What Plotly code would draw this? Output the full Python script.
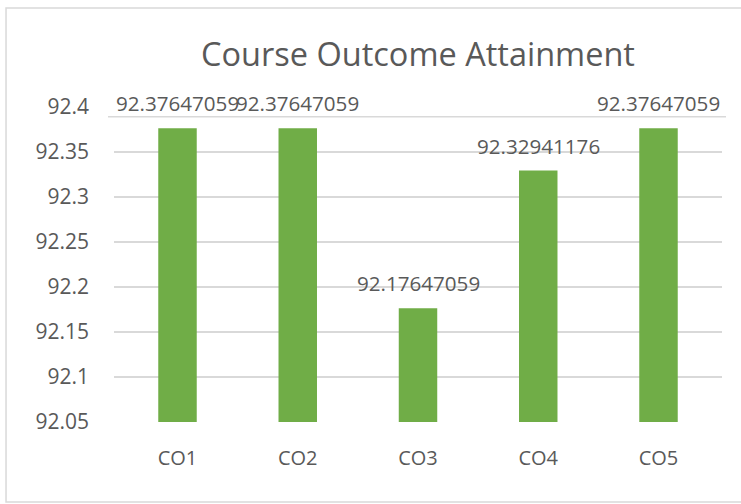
import plotly.graph_objects as go

categories = ["CO1", "CO2", "CO3", "CO4", "CO5"]
values = [92.37647059, 92.37647059, 92.17647059, 92.32941176, 92.37647059]
y_ticks = [92.05, 92.1, 92.15, 92.2, 92.25, 92.3, 92.35, 92.4]
y_tick_labels = ["92.05", "92.1", "92.15", "92.2", "92.25", "92.3", "92.35", "92.4"]
title_text = "Course Outcome Attainment"

TXT = "#595959"
GRID = "#D9D9D9"
FONT = "Open Sans"

fig = go.Figure()
fig.add_trace(go.Bar(
    x=categories, y=values, marker=dict(color="#70AD47", line=dict(width=0)),
    hoverinfo="x+y",
))

for c, v in zip(categories, values):
    fig.add_annotation(x=c, y=v, text="%.8f" % v, showarrow=False,
                       yanchor="middle", yshift=25,
                       font=dict(family=FONT, size=20.6, color=TXT))

# chart border and top rule
fig.add_shape(type="rect", xref="paper", yref="paper",
              x0=-0.1776, x1=1.08, y0=-0.254, y1=1.314,
              line=dict(color=GRID, width=1.5), fillcolor="rgba(0,0,0,0)", layer="below")
fig.add_shape(type="line", xref="paper", yref="paper",
              x0=-0.0099, x1=1.0066, y0=0.969, y1=0.969,
              line=dict(color=GRID, width=1.5), layer="below")

fig.update_layout(
    width=741, height=504,
    margin=dict(l=114, r=19, t=107, b=82),
    paper_bgcolor="white", plot_bgcolor="white",
    bargap=0.68,
    showlegend=False,
    title=dict(text=title_text, x=0.5, xref="paper", xanchor="center",
               y=1 - 55 / 504, yref="container", yanchor="middle",
               font=dict(family=FONT, size=32.5, color=TXT)),
    font=dict(family=FONT, color=TXT),
    xaxis=dict(showgrid=False, showline=False, ticks="",
               tickfont=dict(family=FONT, size=20, color=TXT),
               ticklabelstandoff=22),
    yaxis=dict(range=[92.05, 92.4], tickmode="array", tickvals=y_ticks,
               ticktext=y_tick_labels, showgrid=False, zeroline=False,
               showline=False, ticks="",
               tickfont=dict(family=FONT, size=21, color=TXT),
               ticklabelstandoff=24,
               minor=dict(tickmode="array", tickvals=y_ticks[:-1], showgrid=True,
                          gridcolor=GRID, gridwidth=1.5, ticks="")),
)

fig.write_html("out.html", config={"displayModeBar": False},
               post_script="document.body.style.margin='0';document.body.style.padding='0';")
